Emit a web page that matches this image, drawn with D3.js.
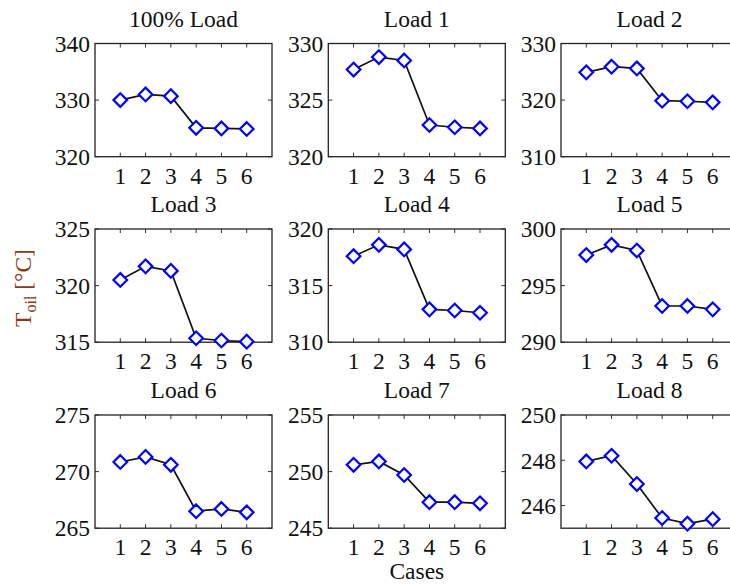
<!DOCTYPE html>
<html><head><meta charset="utf-8">
<script src="https://cdn.jsdelivr.net/npm/d3@7"></script>
<style>body{margin:0;background:#fff;} svg{display:block;}</style>
</head><body>
<svg id="chart" width="730" height="586"></svg>
<script>
const cases = [1, 2, 3, 4, 5, 6];
const titles = ["100% Load", "Load 1", "Load 2", "Load 3", "Load 4", "Load 5", "Load 6", "Load 7", "Load 8"];
const load100 = [330.0, 331.0, 330.7, 325.1, 325.0, 324.9];
const load1 = [327.7, 328.8, 328.5, 322.8, 322.6, 322.5];
const load2 = [324.9, 325.9, 325.6, 319.9, 319.8, 319.6];
const load3 = [320.5, 321.7, 321.3, 315.35, 315.15, 315.05];
const load4 = [317.6, 318.6, 318.2, 312.9, 312.8, 312.6];
const load5 = [297.7, 298.6, 298.1, 293.2, 293.2, 292.9];
const load6 = [270.85, 271.3, 270.6, 266.5, 266.7, 266.4];
const load7 = [250.6, 250.9, 249.7, 247.3, 247.3, 247.2];
const load8 = [247.95, 248.2, 246.95, 245.45, 245.2, 245.4];
const yDomains = [[320, 340], [320, 330], [310, 330], [315, 325], [310, 320], [290, 300], [265, 275], [245, 255], [245, 250]];
const yTicks = [[320, 330, 340], [320, 325, 330], [310, 320, 330], [315, 320, 325], [310, 315, 320], [290, 295, 300], [265, 270, 275], [245, 250, 255], [246, 248, 250]];
const xTicks = [1, 2, 3, 4, 5, 6];
const series = [load100, load1, load2, load3, load4, load5, load6, load7, load8];

const svg = d3.select("#chart");
const font = "'Liberation Serif', 'Times New Roman', serif";
const fs = 23.5;
const colLeft = [95, 328.3, 561];
const rowTop = [43.5, 229, 415];
const pw = 177, ph = 113.2;

series.forEach((vals, i) => {
  const r = Math.floor(i / 3), c = i % 3;
  const g = svg.append("g").attr("transform", `translate(${colLeft[c]},${rowTop[r]})`);
  const x = d3.scaleLinear().domain([0, 7]).range([0, pw]);
  const y = d3.scaleLinear().domain(yDomains[i]).range([ph, 0]);

  const tl = 4;
  xTicks.forEach(t => {
    g.append("line").attr("x1", x(t)).attr("x2", x(t)).attr("y1", ph).attr("y2", ph - tl).attr("stroke", "#333").attr("stroke-width", 1);
    g.append("line").attr("x1", x(t)).attr("x2", x(t)).attr("y1", 0).attr("y2", tl).attr("stroke", "#333").attr("stroke-width", 1);
  });
  yTicks[i].forEach(t => {
    g.append("line").attr("x1", 0).attr("x2", tl).attr("y1", y(t)).attr("y2", y(t)).attr("stroke", "#333").attr("stroke-width", 1);
    g.append("line").attr("x1", pw).attr("x2", pw - tl).attr("y1", y(t)).attr("y2", y(t)).attr("stroke", "#333").attr("stroke-width", 1);
  });
  g.append("rect").attr("x", 0).attr("y", 0).attr("width", pw).attr("height", ph)
    .attr("fill", "none").attr("stroke", "#222").attr("stroke-width", 1.3);

  g.selectAll("text.xt").data(xTicks).enter().append("text")
    .attr("x", d => x(d)).attr("y", ph + 27).attr("text-anchor", "middle")
    .attr("font-family", font).attr("font-size", fs).attr("fill", "#111").text(d => d);
  g.selectAll("text.yt").data(yTicks[i]).enter().append("text")
    .attr("x", -5).attr("y", d => y(d)).attr("dy", "0.35em").attr("text-anchor", "end")
    .attr("font-family", font).attr("font-size", fs).attr("fill", "#111").text(d => d);

  g.append("text").attr("x", pw / 2).attr("y", -17).attr("text-anchor", "middle")
    .attr("font-family", font).attr("font-size", fs).attr("fill", "#111").text(titles[i]);

  const line = d3.line().x((d, k) => x(cases[k])).y(d => y(d));
  g.append("path").datum(vals).attr("d", line).attr("fill", "none").attr("stroke", "#111").attr("stroke-width", 1.7);

  const s = 6.8;
  g.selectAll("path.m").data(vals).enter().append("path")
    .attr("d", (d, k) => {
      const cx = x(cases[k]), cy = y(d);
      return `M${cx},${cy - s}L${cx + s},${cy}L${cx},${cy + s}L${cx - s},${cy}Z`;
    })
    .attr("fill", "#fff").attr("stroke", "#0000ff").attr("stroke-width", 2.2);
});

svg.append("text").attr("x", colLeft[1] + pw / 2).attr("y", 579).attr("text-anchor", "middle")
  .attr("font-family", font).attr("font-size", fs).attr("fill", "#111").text("Cases");

const yl = svg.append("text").attr("transform", "translate(31,288) rotate(-90)").attr("text-anchor", "middle")
  .attr("font-family", font).attr("font-size", fs).attr("fill", "#8b3a1a");
yl.append("tspan").text("T");
yl.append("tspan").attr("font-size", 16).attr("dy", 5).text("oil");
yl.append("tspan").attr("dy", -5).text(" [°C]");
</script>
</body></html>
